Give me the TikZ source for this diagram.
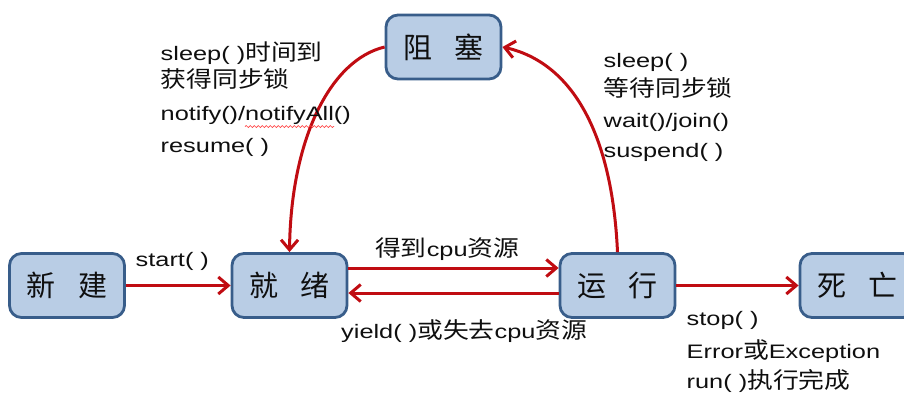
\documentclass[tikz,border=0pt]{standalone}
\usepackage{fontspec}
\setmainfont{Liberation Sans}[FakeStretch=1.3]
\newfontfamily\cjk{Noto Sans CJK SC}[Scale=1.15,FakeStretch=1.15]
\newfontfamily\boxcjk{Noto Sans CJK SC}
\usetikzlibrary{arrows.meta,bending,decorations.pathmorphing}
\definecolor{boxfill}{RGB}{185,205,229}
\definecolor{boxline}{RGB}{56,93,138}
\definecolor{arrred}{RGB}{192,12,18}
\definecolor{txt}{RGB}{15,15,15}
\begin{document}
\begin{tikzpicture}[x=1pt,y=-1pt,
  state/.style={draw=boxline, fill=boxfill, line width=2.8pt, rounded corners=12pt,
    minimum width=115pt, minimum height=64pt, inner sep=0pt,
    font=\boxcjk\fontsize{29}{29}\selectfont, text=txt},
  arr/.style={draw=arrred, line width=3pt, -{Straight Barb[length=10pt,width=17pt]}},
  lbl/.style={anchor=base west, inner sep=0pt, text=txt, font=\fontsize{19.5}{24}\selectfont},
  squig/.style={draw=red!75!white, line width=0.7pt, decorate,
    decoration={snake, segment length=4pt, amplitude=1pt}}]
\clip (0,0) rectangle (904,392);
% states
\node[state] (xj) at (67,285.5) {新\hspace{22.5pt}建};
\node[state] (jx) at (289.5,285.5) {就\hspace{22.5pt}绪};
\node[state] (yx) at (617.5,285.5) {运\hspace{22.5pt}行};
\node[state] (sw) at (857.5,285.5) {死\hspace{22.5pt}亡};
\node[state] (zs) at (443.5,47) {阻\hspace{22.5pt}塞};
% connectors
\draw[arr] (xj.east) -- (jx.west);
\draw[arr] ([yshift=17.5pt]jx.east) -- ([yshift=17.5pt]yx.west);
\draw[arr] ([yshift=-7.5pt]yx.west) -- ([yshift=-7.5pt]jx.east);
\draw[arr] (yx.east) -- (sw.west);
\draw[arr] (zs.west) .. controls (330,60) and (290,140) .. (jx.north);
\draw[arr] (yx.north) .. controls (612,130) and (570,60) .. (zs.east);
% labels
\node[lbl] (l1) at (160.5,60) {sleep( ){\cjk 时间到}};
\node[lbl] (l2) at (160.5,87.5) {\cjk 获得同步锁};
\node[lbl] (l3) at (160.5,120.5) {notify()/notifyAll()};
\node[lbl] (l4) at (160.5,152.5) {resume( )};
\draw[squig] (245,126.5) -- (334,126.5);
\node[lbl] (r1) at (603.5,67) {sleep( )};
\node[lbl] (r2) at (603.5,96) {\cjk 等待同步锁};
\node[lbl] (r3) at (603.5,127.5) {wait()/join()};
\node[lbl] (r4) at (603.5,157) {suspend( )};
\node[lbl] (s1) at (135.5,266.5) {start( )};
\node[lbl] (c1) at (375,256.5) {{\cjk 得到}cpu{\cjk 资源}};
\node[lbl] (c2) at (341,338) {yield( ){\cjk 或失去}cpu{\cjk 资源}};
\node[lbl] (d1) at (686.5,325) {stop( )};
\node[lbl] (d2) at (686.5,358) {Error{\cjk 或}Exception};
\node[lbl] (d3) at (686.5,388) {run( ){\cjk 执行完成}};
\end{tikzpicture}
\end{document}
